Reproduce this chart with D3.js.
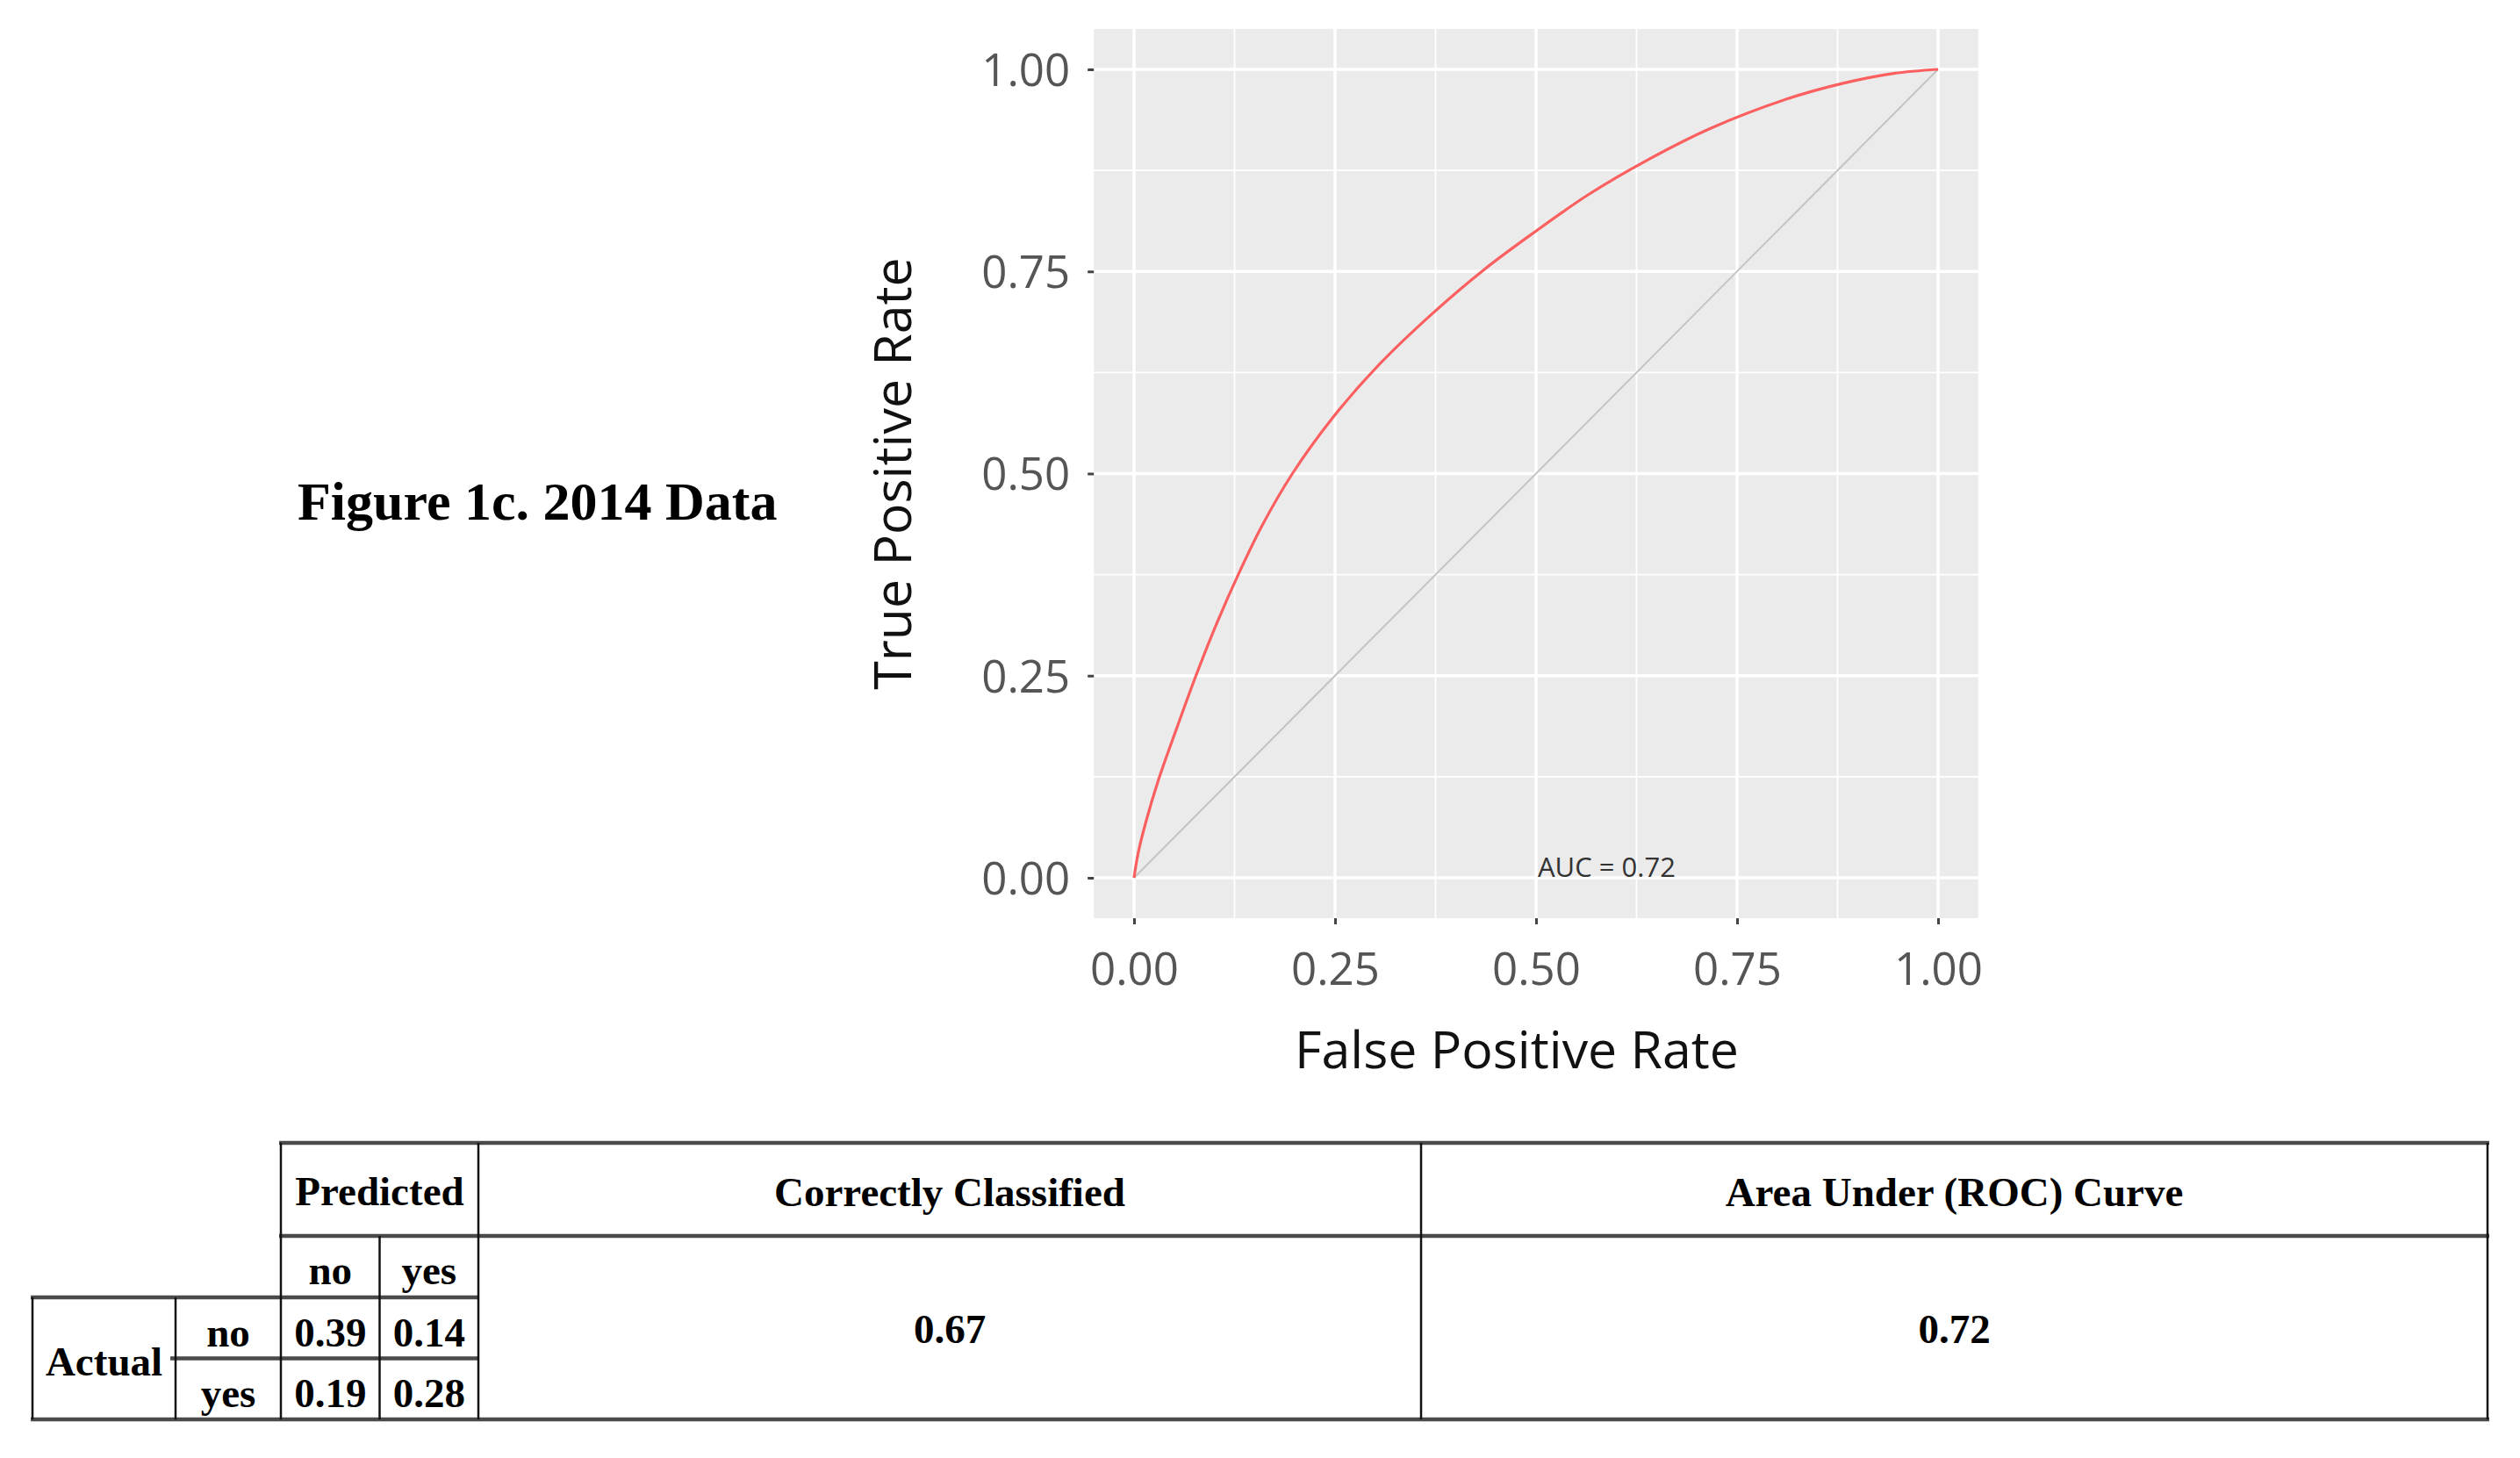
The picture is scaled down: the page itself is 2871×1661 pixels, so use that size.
<!DOCTYPE html>
<html>
<head>
<meta charset="utf-8">
<script src="https://cdn.jsdelivr.net/npm/d3@7"></script>
<style>
  html, body { margin: 0; padding: 0; background: #fff; }
  svg { display: block; }
</style>
</head>
<body>
<svg id="chart" width="2871" height="1661"></svg>
<script>
// ---------------- DATA ----------------
const titleText = "Figure 1c. 2014 Data";
const xTitle = "False Positive Rate";
const yTitle = "True Positive Rate";
const aucLabel = "AUC = 0.72";
const majorTicks = [0, 0.25, 0.5, 0.75, 1];
const minorTicks = [0.125, 0.375, 0.625, 0.875];
// ROC curve
const fpr = [0, 0.005, 0.015, 0.030, 0.052, 0.077, 0.103, 0.131, 0.160, 0.197, 0.247, 0.305, 0.370, 0.435, 0.500, 0.565, 0.637, 0.717, 0.811, 0.883, 0.945, 1];
const tpr = [0, 0.030, 0.070, 0.120, 0.182, 0.250, 0.315, 0.378, 0.437, 0.500, 0.569, 0.635, 0.697, 0.752, 0.800, 0.845, 0.887, 0.927, 0.963, 0.983, 0.995, 1];
const diagonal = [0, 1];

// Table
const predictedHeader = "Predicted";
const actualHeader = "Actual";
const predLabels = ["no", "yes"];
const actualLabels = ["no", "yes"];
const confusion = [[0.39, 0.14], [0.19, 0.28]];
const metricHeaders = ["Correctly Classified", "Area Under (ROC) Curve"];
const metricValues = [0.67, 0.72];

// ---------------- DRAW ----------------
const svg = d3.select("#chart");
const sansFont = "'Open Sans', 'Noto Sans', sans-serif";
const serifFont = "'Liberation Serif', 'DejaVu Serif', serif";

// Title
svg.append("text")
  .attr("x", 339).attr("y", 592)
  .attr("font-family", serifFont).attr("font-weight", "bold")
  .attr("font-size", 62).attr("fill", "#000")
  .text(titleText);

// Plot scales (ggplot-like 5% expansion)
const x = d3.scaleLinear().domain([0, 1]).range([1292, 2208]);
const y = d3.scaleLinear().domain([0, 1]).range([1000, 79]);
const xPad = 0.05 * (x(1) - x(0));
const yPad = 0.05 * (y(0) - y(1));
const pL = x(0) - xPad, pR = x(1) + xPad, pT = y(1) - yPad, pB = y(0) + yPad;

svg.append("rect")
  .attr("x", pL).attr("y", pT).attr("width", pR - pL).attr("height", pB - pT)
  .attr("fill", "#ebebeb");

const grid = svg.append("g");
grid.selectAll("line.minx").data(minorTicks).join("line")
  .attr("x1", d => x(d)).attr("x2", d => x(d)).attr("y1", pT).attr("y2", pB)
  .attr("stroke", "#fff").attr("stroke-width", 1.8);
grid.selectAll("line.miny").data(minorTicks).join("line")
  .attr("y1", d => y(d)).attr("y2", d => y(d)).attr("x1", pL).attr("x2", pR)
  .attr("stroke", "#fff").attr("stroke-width", 1.8);
grid.selectAll("line.majx").data(majorTicks).join("line")
  .attr("x1", d => x(d)).attr("x2", d => x(d)).attr("y1", pT).attr("y2", pB)
  .attr("stroke", "#fff").attr("stroke-width", 3.5);
grid.selectAll("line.majy").data(majorTicks).join("line")
  .attr("y1", d => y(d)).attr("y2", d => y(d)).attr("x1", pL).attr("x2", pR)
  .attr("stroke", "#fff").attr("stroke-width", 3.5);

// Diagonal reference
svg.append("line")
  .attr("x1", x(diagonal[0])).attr("y1", y(diagonal[0]))
  .attr("x2", x(diagonal[1])).attr("y2", y(diagonal[1]))
  .attr("stroke", "#c4c4c4").attr("stroke-width", 2);

// ROC curve
const pts = fpr.map((f, i) => [f, tpr[i]]);
svg.append("path")
  .datum(pts)
  .attr("fill", "none")
  .attr("stroke", "#fb5f5f")
  .attr("stroke-width", 3.2)
  .attr("d", d3.line().x(d => x(d[0])).y(d => y(d[1])).curve(d3.curveCatmullRom.alpha(0.5)));

// AUC annotation
svg.append("text")
  .attr("x", x(0.5) + 2).attr("y", y(0) - 1)
  .attr("font-family", sansFont).attr("font-size", 31).attr("fill", "#333")
  .text(aucLabel);

// Axes
const fmt = d3.format(".2f");
const yAxis = svg.append("g")
  .attr("transform", `translate(${pL},0)`)
  .call(d3.axisLeft(y).tickValues(majorTicks).tickFormat(fmt).tickSize(7).tickPadding(20));
const xAxis = svg.append("g")
  .attr("transform", `translate(0,${pB})`)
  .call(d3.axisBottom(x).tickValues(majorTicks).tickFormat(fmt).tickSize(7).tickPadding(33));
[xAxis, yAxis].forEach(a => {
  a.select(".domain").remove();
  a.selectAll(".tick line").attr("stroke", "#444").attr("stroke-width", 3);
  a.selectAll(".tick text").attr("font-family", sansFont).attr("font-size", 51).attr("fill", "#555");
});
yAxis.selectAll(".tick text").attr("dy", "0.36em");

// Axis titles
svg.append("text")
  .attr("x", 1728).attr("y", 1217)
  .attr("text-anchor", "middle")
  .attr("font-family", sansFont).attr("font-size", 59).attr("fill", "#111")
  .text(xTitle);
svg.append("text")
  .attr("transform", `translate(1038,${(pT + pB) / 2}) rotate(-90)`)
  .attr("text-anchor", "middle")
  .attr("font-family", sansFont).attr("font-size", 59).attr("fill", "#111")
  .text(yTitle);

// ---------------- TABLE ----------------
const tbl = svg.append("g");
const colX = d3.scaleBand().domain(predLabels).range([320, 545]);
const rowY = d3.scaleBand().domain(actualLabels).range([1478, 1617]);
const tTop = 1302, tHead = 1408, tSub = 1478, tBot = 1617;
const actL = 37, actR = 200, metricEdges = [545, 1619, 2834];

const hLine = (x1, x2, yy) => tbl.append("line").attr("x1", x1).attr("x2", x2).attr("y1", yy).attr("y2", yy)
  .attr("stroke", "#4a4a4a").attr("stroke-width", 4.5);
const vLine = (xx, y1, y2) => tbl.append("line").attr("x1", xx).attr("x2", xx).attr("y1", y1).attr("y2", y2)
  .attr("stroke", "#111").attr("stroke-width", 2.5);

hLine(colX.range()[0] - 2, metricEdges[2] + 2, tTop);
hLine(colX.range()[0] - 2, metricEdges[2] + 2, tHead);
hLine(actL - 2, colX.range()[1] + 1, tSub);
hLine(actR - 6, colX.range()[1] + 1, rowY("yes"));
hLine(actL - 2, metricEdges[2] + 2, tBot);

vLine(actL, tSub, tBot);
vLine(actR, tSub, tBot);
vLine(colX.range()[0], tTop, tBot);
vLine(colX("yes"), tHead, tBot);
metricEdges.forEach(e => vLine(e, tTop, tBot));

const tText = (xx, yy, s) => tbl.append("text").attr("x", xx).attr("y", yy)
  .attr("text-anchor", "middle").attr("font-family", serifFont).attr("font-weight", "bold")
  .attr("font-size", 47).attr("fill", "#000").text(s);

tText((colX.range()[0] + colX.range()[1]) / 2, 1373, predictedHeader);
predLabels.forEach(p => tText(colX(p) + colX.bandwidth() / 2, 1463, p));
tText((actL + actR) / 2, 1567, actualHeader);
actualLabels.forEach((a, i) => {
  tText((actR + colX.range()[0]) / 2, rowY(a) + rowY.bandwidth() / 2 + 21, a);
  predLabels.forEach((p, j) => tText(colX(p) + colX.bandwidth() / 2, rowY(a) + rowY.bandwidth() / 2 + 21, fmt(confusion[i][j])));
});
metricHeaders.forEach((h, i) => {
  const cx = (metricEdges[i] + metricEdges[i + 1]) / 2;
  tText(cx, 1374, h);
  tText(cx, 1530, fmt(metricValues[i]));
});
</script>
</body>
</html>
